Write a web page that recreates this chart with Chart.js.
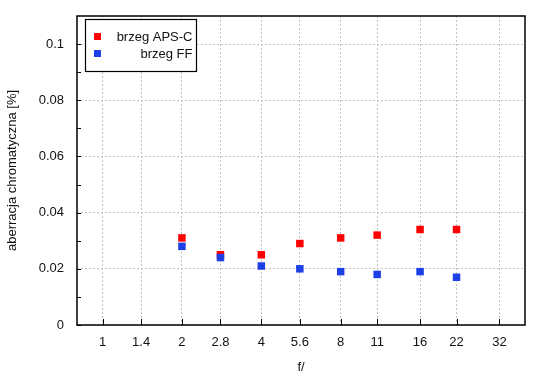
<!DOCTYPE html>
<html>
<head>
<meta charset="utf-8">
<script src="https://cdn.jsdelivr.net/npm/chart.js@4/dist/chart.umd.min.js"></script>
<style>
  html, body { margin: 0; padding: 0; background: #fff; }
  #wrap { width: 550px; height: 380px; }
</style>
</head>
<body>
<div id="wrap"><canvas id="c" width="550" height="380"></canvas></div>
<script>
const fStops = [2, 2.8, 4, 5.6, 8, 11, 16, 22];
const edgeAPSC = [0.031, 0.025, 0.025, 0.029, 0.031, 0.032, 0.034, 0.034];
const edgeFF = [0.028, 0.024, 0.021, 0.020, 0.019, 0.018, 0.019, 0.017];
const xTickValues = [1, 1.4, 2, 2.8, 4, 5.6, 8, 11, 16, 22, 32];
const xTickLabels = ['1', '1.4', '2', '2.8', '4', '5.6', '8', '11', '16', '22', '32'];
const yTickValues = [0, 0.02, 0.04, 0.06, 0.08, 0.1];
const yTickLabels = ['0', '0.02', '0.04', '0.06', '0.08', '0.1'];
const yMinorValues = [0.01, 0.03, 0.05, 0.07, 0.09];
const seriesLabels = ['brzeg APS-C', 'brzeg FF'];
const seriesColors = ['#ff0000', '#1c3fe6'];

const FONT = "'Liberation Sans', Arial, sans-serif";

const framePlugin = {
  id: 'framePlugin',
  afterDraw(chart) {
    const ctx = chart.ctx;
    const a = chart.chartArea;
    const xs = chart.scales.x, ys = chart.scales.y;
    ctx.save();
    ctx.strokeStyle = '#000';
    ctx.lineWidth = 1;
    // tick marks
    ctx.beginPath();
    xTickValues.forEach(v => {
      const px = Math.round(xs.getPixelForValue(v)) + 0.5;
      ctx.moveTo(px, a.bottom);
      ctx.lineTo(px, a.bottom - 6);
    });
    yTickValues.concat(yMinorValues).forEach(v => {
      const py = Math.round(ys.getPixelForValue(v)) + 0.5;
      ctx.moveTo(a.left, py);
      ctx.lineTo(a.left + 4, py);
    });
    ctx.stroke();
    // frame
    ctx.lineWidth = 1.5;
    ctx.strokeRect(a.left, a.top, a.right - a.left, a.bottom - a.top);
    // legend
    const lx = a.left + 8.5, ly = a.top + 3.5, lw = 111, lh = 52;
    ctx.fillStyle = '#fff';
    ctx.fillRect(lx, ly, lw, lh);
    ctx.lineWidth = 1.2;
    ctx.strokeRect(lx, ly, lw, lh);
    ctx.font = '13px ' + FONT;
    ctx.textAlign = 'right';
    ctx.textBaseline = 'middle';
    seriesLabels.forEach((lab, i) => {
      const cy = ly + 17 + i * 17;
      ctx.fillStyle = seriesColors[i];
      ctx.fillRect(lx + 8.5, cy - 3.5, 7, 7);
      ctx.fillStyle = '#111';
      ctx.fillText(lab, lx + lw - 4, cy + 0.5);
    });
    ctx.restore();
  }
};

new Chart(document.getElementById('c'), {
  type: 'scatter',
  data: {
    datasets: [
      {
        label: seriesLabels[0],
        data: fStops.map((f, i) => ({ x: f, y: edgeAPSC[i] })),
        backgroundColor: seriesColors[0],
        borderColor: seriesColors[0],
        borderWidth: 0,
        pointStyle: 'rect',
        pointRadius: 5.3,
        order: 1
      },
      {
        label: seriesLabels[1],
        data: fStops.map((f, i) => ({ x: f, y: edgeFF[i] })),
        backgroundColor: seriesColors[1],
        borderColor: seriesColors[1],
        borderWidth: 0,
        pointStyle: 'rect',
        pointRadius: 5.3,
        order: 0
      }
    ]
  },
  options: {
    responsive: false,
    animation: false,
    devicePixelRatio: 1,
    layout: { padding: { left: 0, right: 25, top: 16, bottom: 0 } },
    plugins: {
      legend: { display: false },
      tooltip: { enabled: false }
    },
    scales: {
      x: {
        type: 'logarithmic',
        min: 0.8,
        max: 40,
        afterBuildTicks: s => { s.ticks = xTickValues.map(v => ({ value: v })); },
        afterFit: s => { s.height = 55; s.paddingLeft = 0; s.paddingRight = 0; },
        ticks: {
          autoSkip: false,
          maxRotation: 0,
          minRotation: 0,
          padding: 10,
          color: '#111',
          font: { family: FONT, size: 13 },
          callback: (v, i) => xTickLabels[i]
        },
        grid: { color: '#c4c4c4', lineWidth: 1, drawTicks: false },
        border: { display: false, dash: [2, 2] },
        title: {
          display: true,
          text: 'f/',
          color: '#111',
          font: { family: FONT, size: 13 },
          padding: { top: 0, bottom: 5 }
        }
      },
      y: {
        type: 'linear',
        min: 0,
        max: 0.11,
        afterBuildTicks: s => { s.ticks = yTickValues.map(v => ({ value: v })); },
        afterFit: s => { s.width = 77; s.paddingTop = 0; s.paddingBottom = 0; },
        ticks: {
          autoSkip: false,
          padding: 13,
          color: '#111',
          font: { family: FONT, size: 13 },
          callback: (v, i) => yTickLabels[i]
        },
        grid: { color: '#c4c4c4', lineWidth: 1, drawTicks: false },
        border: { display: false, dash: [2, 2] },
        title: {
          display: true,
          text: 'aberracja chromatyczna [%]',
          color: '#111',
          font: { family: FONT, size: 13 },
          padding: { top: 5, bottom: 0 }
        }
      }
    }
  },
  plugins: [framePlugin]
});
</script>
</body>
</html>
